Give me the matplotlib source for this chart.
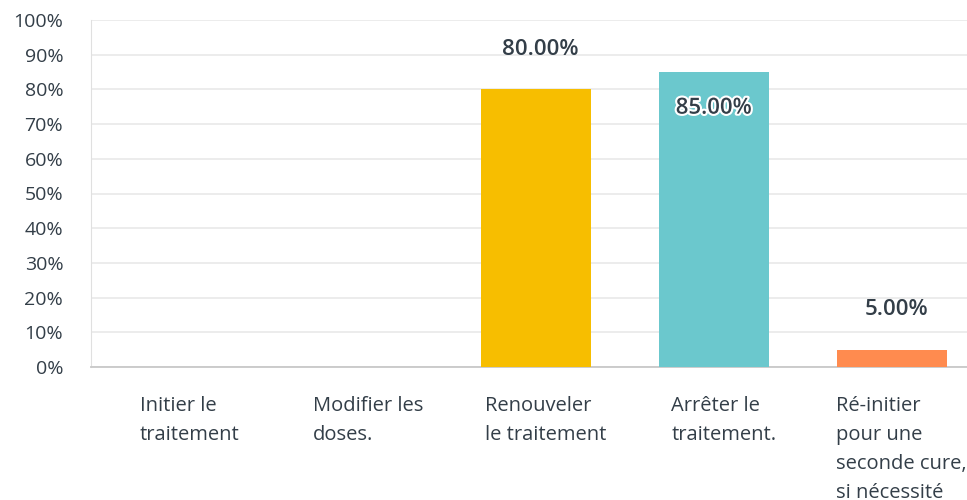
import numpy as np
import matplotlib.pyplot as plt
import matplotlib.patheffects as pe
from matplotlib.ticker import PercentFormatter, MultipleLocator

categories = ["Initier le\ntraitement", "Modifier les\ndoses.", "Renouveler\nle traitement",
              "Arrêter le\ntraitement.", "Ré-initier\npour une\nseconde cure,\nsi nécessité"]
values = [0.0, 0.0, 80.0, 85.0, 5.0]
colors = ["#F7BE00", "#F7BE00", "#F7BE00", "#6BC8CD", "#FF8B4F"]

plt.rcParams['font.family'] = ['Open Sans', 'DejaVu Sans']
txt = '#333E48'

fig = plt.figure(figsize=(9.67, 5.0), dpi=100)
ax = fig.add_axes([91/967, (500-367)/500, 890/967, 347/500])

x = np.arange(len(categories))
ax.bar(x, values, width=0.62, color=colors, zorder=3)

ax.set_xlim(-0.5, len(categories) - 0.5)
ax.set_ylim(0, 100)
ax.yaxis.set_major_locator(MultipleLocator(10))
ax.yaxis.set_major_formatter(PercentFormatter(decimals=0))
ax.tick_params(axis='y', length=0, pad=20, labelsize=14, labelcolor=txt)
ax.tick_params(axis='x', length=0, labelbottom=False)
ax.grid(axis='y', color='#EBEBEB', linewidth=1.3, zorder=0)
for s in ['top', 'right']:
    ax.spines[s].set_visible(False)
ax.spines['left'].set_color('#E0E0E0')
ax.spines['bottom'].set_color('#C8C8C8')
ax.spines['bottom'].set_linewidth(1.3)

# category labels (wrapped, left aligned block)
for i, lab in enumerate(categories):
    ax.annotate(lab, (i, 0), xytext=(7, -21), textcoords='offset points',
                ha='center', va='top', multialignment='left', fontsize=14.5,
                color=txt, linespacing=1.6, annotation_clip=False)

# value labels
for i, v in enumerate(values):
    if v <= 0:
        continue
    if v + 16 > 100:
        t = ax.annotate(f"{v:.2f}%", (i, v), xytext=(0, -26), textcoords='offset points',
                        ha='center', va='center', fontsize=16, fontweight='semibold', color=txt, zorder=5)
        t.set_path_effects([pe.withStroke(linewidth=3, foreground='white')])
    else:
        ax.annotate(f"{v:.2f}%", (i, v), xytext=(3, 29), textcoords='offset points',
                    ha='center', va='center', fontsize=16, fontweight='semibold', color=txt, zorder=5)

fig.savefig('out.png', dpi=100)
